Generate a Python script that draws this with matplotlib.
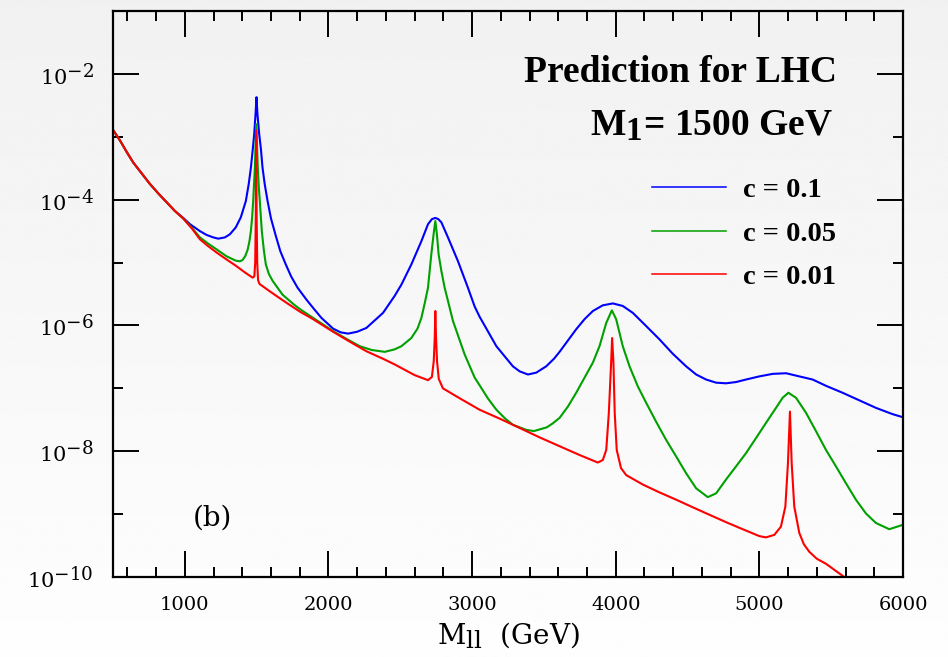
import numpy as np
import matplotlib
matplotlib.use('Agg')
import matplotlib.pyplot as plt
from matplotlib.ticker import LogLocator, FuncFormatter, MultipleLocator

plt.rcParams['font.family'] = 'DejaVu Serif'
plt.rcParams['mathtext.fontset'] = 'dejavuserif'
# the reference draws exponents nearly as big as the base
try:
    import matplotlib._mathtext as _mt
    _mt.SHRINK_FACTOR = 0.88
except Exception:
    pass

# Curves: mass (GeV) and log10 of the value.
m_blue = [500, 549, 595, 641, 699, 757, 815, 873, 931, 989, 1036, 1105, 1151, 1198, 1233, 1279,
          1314, 1355, 1390, 1425, 1445, 1460, 1473, 1483, 1492, 1499, 1506, 1518, 1530, 1541,
          1556, 1576, 1600, 1634, 1665, 1703, 1740, 1785, 1847, 1900, 1951, 2032, 2085, 2137,
          2200, 2264, 2322, 2380, 2461, 2508, 2577, 2647, 2693, 2720, 2744, 2765, 2786, 2832,
          2902, 2971, 3018, 3052, 3169, 3284, 3331, 3389, 3447, 3516, 3570, 3609, 3667, 3725,
          3783, 3841, 3910, 3980, 4049, 4119, 4212, 4304, 4397, 4490, 4560, 4629, 4699, 4768,
          4838, 4907, 5000, 5093, 5186, 5278, 5371, 5464, 5579, 5695, 5811, 5927, 6000]
e_blue = [-2.89, -3.06, -3.24, -3.41, -3.58, -3.75, -3.90, -4.04, -4.18, -4.29, -4.39, -4.50,
          -4.56, -4.60, -4.62, -4.60, -4.55, -4.44, -4.28, -4.02, -3.75, -3.49, -3.20, -2.96,
          -2.65, -2.37, -2.65, -2.96, -3.20, -3.49, -3.75, -4.02, -4.30, -4.58, -4.82, -5.03,
          -5.22, -5.40, -5.59, -5.74, -5.88, -6.05, -6.11, -6.13, -6.10, -6.04, -5.92, -5.80,
          -5.53, -5.35, -5.03, -4.66, -4.39, -4.31, -4.29, -4.31, -4.36, -4.60, -4.98, -5.40,
          -5.70, -5.86, -6.33, -6.65, -6.73, -6.78, -6.75, -6.65, -6.53, -6.42, -6.24, -6.06,
          -5.90, -5.77, -5.68, -5.65, -5.69, -5.80, -6.01, -6.22, -6.45, -6.65, -6.78, -6.86,
          -6.91, -6.92, -6.90, -6.86, -6.81, -6.77, -6.76, -6.81, -6.86, -6.96, -7.07, -7.19,
          -7.31, -7.41, -7.46]

m_green = [500, 549, 595, 641, 699, 757, 815, 873, 931, 989, 1050, 1105, 1163, 1221, 1290, 1355,
           1383, 1402, 1420, 1437, 1450, 1460, 1469, 1476, 1483, 1488, 1493, 1497, 1502, 1508,
           1515, 1522, 1536, 1550, 1564, 1585, 1611, 1680, 1761, 1801, 1893, 2032, 2130, 2218,
           2300, 2392, 2461, 2508, 2577, 2620, 2647, 2670, 2693, 2716, 2732, 2744, 2755, 2767,
           2785, 2809, 2867, 2948, 3018, 3052, 3110, 3169, 3230, 3284, 3377, 3430, 3520, 3560,
           3609, 3667, 3725, 3783, 3841, 3887, 3934, 3973, 4003, 4049, 4096, 4154, 4212, 4281,
           4351, 4420, 4490, 4560, 4641, 4699, 4768, 4838, 4907, 4977, 5046, 5116, 5162, 5202,
           5255, 5325, 5394, 5464, 5533, 5603, 5672, 5742, 5811, 5904, 6000]
e_green = [-2.89, -3.06, -3.24, -3.41, -3.58, -3.75, -3.90, -4.04, -4.18, -4.30, -4.45, -4.60,
           -4.70, -4.79, -4.90, -4.97, -4.98, -4.96, -4.90, -4.80, -4.66, -4.50, -4.27, -4.02,
           -3.70, -3.49, -3.10, -2.80, -3.10, -3.49, -3.80, -4.02, -4.50, -4.80, -5.03, -5.18,
           -5.29, -5.51, -5.67, -5.74, -5.88, -6.09, -6.22, -6.33, -6.39, -6.42, -6.38, -6.33,
           -6.20, -6.05, -5.88, -5.65, -5.40, -4.87, -4.55, -4.34, -4.55, -4.87, -5.12, -5.40,
           -5.93, -6.46, -6.83, -6.95, -7.16, -7.34, -7.48, -7.58, -7.66, -7.68, -7.62, -7.56,
           -7.47, -7.29, -7.07, -6.83, -6.59, -6.33, -5.96, -5.76, -5.90, -6.33, -6.65, -6.97,
           -7.23, -7.53, -7.82, -8.08, -8.35, -8.59, -8.73, -8.67, -8.45, -8.24, -8.03, -7.79,
           -7.55, -7.31, -7.15, -7.07, -7.15, -7.39, -7.68, -7.98, -8.24, -8.51, -8.77, -8.99,
           -9.14, -9.24, -9.17]

m_red = [500, 549, 595, 641, 699, 757, 815, 873, 931, 989, 1050, 1105, 1163, 1221, 1290, 1355,
         1420, 1472, 1484, 1490, 1494, 1497, 1500, 1504, 1510, 1520, 1587, 1650, 1708, 1801,
         1893, 2032, 2150, 2264, 2380, 2461, 2600, 2693, 2720, 2733, 2740, 2744, 2749, 2756,
         2768, 2797, 2900, 3052, 3200, 3331, 3470, 3609, 3748, 3875, 3910, 3934, 3952, 3968,
         3975, 3984, 3993, 4007, 4037, 4073, 4189, 4300, 4420, 4535, 4652, 4770, 4884, 5000,
         5046, 5104, 5150, 5181, 5199, 5213, 5225, 5243, 5278, 5310, 5348, 5400, 5464, 5591,
         5650]
e_red = [-2.89, -3.06, -3.24, -3.41, -3.58, -3.75, -3.90, -4.04, -4.18, -4.30, -4.46, -4.63,
         -4.74, -4.84, -4.95, -5.05, -5.16, -5.24, -5.22, -5.00, -4.30, -2.90, -4.30, -5.00,
         -5.28, -5.34, -5.45, -5.55, -5.64, -5.78, -5.90, -6.10, -6.26, -6.41, -6.53, -6.62,
         -6.79, -6.87, -6.82, -6.57, -6.20, -5.77, -6.20, -6.57, -6.85, -7.00, -7.14, -7.34,
         -7.49, -7.63, -7.78, -7.92, -8.06, -8.18, -8.14, -7.98, -7.39, -6.59, -6.20, -6.59,
         -7.39, -7.98, -8.27, -8.38, -8.53, -8.65, -8.77, -8.89, -9.01, -9.13, -9.24, -9.35,
         -9.37, -9.33, -9.20, -8.88, -8.19, -7.37, -8.19, -8.88, -9.30, -9.48, -9.60, -9.71,
         -9.79, -10.00, -10.08]

labels = ['c = 0.1', 'c = 0.05', 'c = 0.01']
colors = ['#0000ff', '#00a000', '#ff0000']

fig = plt.figure(figsize=(9.48, 6.57), dpi=100)

# light grey gradient behind everything
bg = fig.add_axes([0, 0, 1, 1], zorder=-10)
grad = np.linspace(0.945, 0.995, 256).reshape(-1, 1)
bg.imshow(grad, cmap='gray', vmin=0, vmax=1, aspect='auto', extent=[0, 1, 0, 1])
bg.set_axis_off()

ax = fig.add_axes([113 / 948, 80 / 657, 790 / 948, 566 / 657])
ax.patch.set_visible(False)

for m, e, c in zip([m_blue, m_green, m_red], [e_blue, e_green, e_red], colors):
    ax.plot(m, 10.0 ** np.array(e), color=c, lw=1.5)

ax.set_yscale('log')
ax.set_xlim(500, 6000)
ax.set_ylim(1e-10, 1e-1)


def ylab(v, p):
    # only the even decades inside the view get a label
    if 0.5e-10 < v < 0.05:
        return r'$\mathregular{10^{%d}}$' % int(round(np.log10(v)))
    return ''


ax.xaxis.set_major_locator(MultipleLocator(1000))
ax.xaxis.set_minor_locator(MultipleLocator(200))
ax.yaxis.set_major_locator(LogLocator(base=100.0, numticks=10))
ax.yaxis.set_minor_locator(LogLocator(base=10.0, subs=[1.0], numticks=20))
ax.yaxis.set_major_formatter(FuncFormatter(ylab))
ax.yaxis.set_minor_formatter(FuncFormatter(lambda v, p: ''))

ax.tick_params(which='both', direction='in', top=True, right=True, width=1.4, colors='black')
ax.tick_params(which='major', length=19)
ax.tick_params(which='minor', length=7)
ax.tick_params(axis='x', which='major', labelsize=14, pad=14)
ax.tick_params(axis='y', which='major', labelsize=15, pad=14)
for s in ax.spines.values():
    s.set_linewidth(1.6)

ax.set_xlabel(r'M$_{\mathregular{ll}}$  (GeV)', fontsize=20, labelpad=4)

# legend lines drawn from the series styles
handles = [plt.Line2D([], [], color=c, lw=1.1) for c in colors]
ax.legend(handles, labels, loc='upper left', bbox_to_anchor=(652 / 948, 1 - 177 / 657),
          bbox_transform=fig.transFigure, frameon=False, borderpad=0, borderaxespad=0,
          handlelength=2.6, handletextpad=0.6, labelspacing=0.62,
          prop={'family': 'Liberation Serif', 'weight': 'bold', 'size': 20.5})

fig.text(837 / 948, 1 - 82 / 657, 'Prediction for LHC', ha='right', va='baseline',
         family='Liberation Serif', weight='bold', fontsize=27)
fig.text(833 / 948, 1 - 135 / 657, r'M$_{\mathregular{1}}$= 1500 GeV', ha='right', va='baseline',
         family='Liberation Serif', weight='bold', fontsize=27)
fig.text(212 / 948, 1 - 518 / 657, '(b)', ha='center', va='center', fontsize=20)

fig.savefig('out.png', dpi=100)
